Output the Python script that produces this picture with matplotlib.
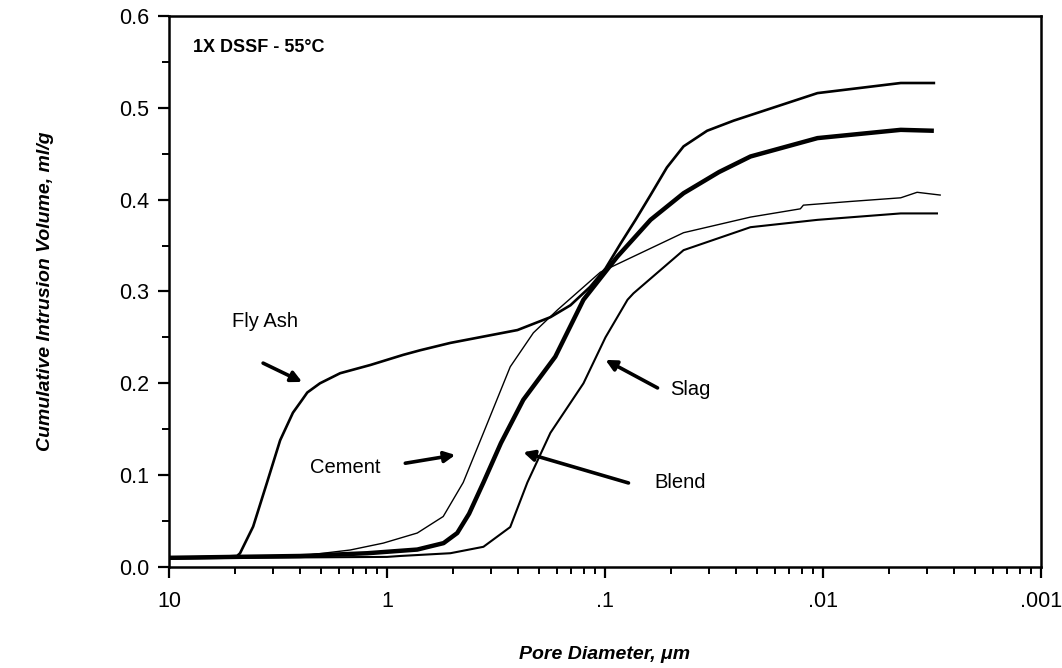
import numpy as np
import matplotlib.pyplot as plt

plt.rcParams['font.family'] = ['Liberation Sans', 'DejaVu Sans']

# pore diameter (um) vs cumulative intrusion volume (ml/g)
flyash_d = [10, 6, 4.87, 4.72, 4.11, 3.55, 3.09, 2.70, 2.45, 2.32, 2.03, 1.64,
            1.19, 0.842, 0.704, 0.512, 0.252, 0.178, 0.144, 0.117, 0.0995,
            0.0849, 0.0724, 0.0618, 0.052, 0.0436, 0.034, 0.0257, 0.0106,
            0.0044, 0.0031]
flyash_v = [0.010, 0.011, 0.012, 0.015, 0.044, 0.092, 0.138, 0.168, 0.182,
            0.190, 0.200, 0.211, 0.220, 0.231, 0.236, 0.244, 0.258, 0.272,
            0.285, 0.305, 0.325, 0.352, 0.378, 0.405, 0.435, 0.458, 0.475,
            0.486, 0.516, 0.527, 0.527]

blend_d = [10, 5, 2.5, 1.23, 0.726, 0.55, 0.476, 0.42, 0.361, 0.30, 0.237,
           0.169, 0.1255, 0.0877, 0.0618, 0.0436, 0.030, 0.0215, 0.0106,
           0.0044, 0.0031]
blend_v = [0.010, 0.011, 0.012, 0.015, 0.019, 0.026, 0.037, 0.058, 0.092,
           0.135, 0.182, 0.229, 0.291, 0.338, 0.378, 0.407, 0.430, 0.447,
           0.467, 0.476, 0.475]

cement_d = [10, 5, 2.5, 1.475, 1.04, 0.726, 0.552, 0.447, 0.361, 0.272, 0.213,
            0.165, 0.105, 0.0436, 0.0215, 0.0127, 0.0123, 0.0075, 0.0044,
            0.0037, 0.0029]
cement_v = [0.010, 0.011, 0.012, 0.0185, 0.026, 0.037, 0.055, 0.092, 0.146,
            0.218, 0.255, 0.280, 0.321, 0.364, 0.381, 0.390, 0.394, 0.398,
            0.402, 0.408, 0.405]

slag_d = [10, 5, 1, 0.869, 0.512, 0.361, 0.272, 0.227, 0.178, 0.1255, 0.0995,
          0.0788, 0.0740, 0.0436, 0.0215, 0.0106, 0.0044, 0.0030]
slag_v = [0.009, 0.010, 0.011, 0.012, 0.015, 0.022, 0.0435, 0.092, 0.146,
          0.200, 0.250, 0.291, 0.298, 0.345, 0.370, 0.378, 0.385, 0.385]

xtick_vals = [10, 1, 0.1, 0.01, 0.001]
xtick_labels = ['10', '1', '.1', '.01', '.001']
ytick_vals = [0.0, 0.1, 0.2, 0.3, 0.4, 0.5, 0.6]

fig = plt.figure(figsize=(10.62, 6.68), dpi=100)
ax = fig.add_axes([0.1591, 0.1512, 0.8211, 0.8249])

# x axis is plotted as 1/d so the log minor ticks bunch up toward the
# small-diameter end of each decade, as in the original graph
def inv(d):
    return 1.0 / np.asarray(d, dtype=float)

ax.plot(inv(flyash_d), flyash_v, color='k', lw=1.9)
ax.plot(inv(cement_d), cement_v, color='k', lw=1.0)
ax.plot(inv(slag_d), slag_v, color='k', lw=1.5)
ax.plot(inv(blend_d), blend_v, color='k', lw=3.2, solid_capstyle='butt')

ax.set_xscale('log')
ax.set_xlim(inv(10), inv(0.001))
ax.set_ylim(0, 0.6)
ax.set_xticks(inv(xtick_vals))
ax.set_xticklabels(xtick_labels)
ax.set_yticks(ytick_vals)
ax.set_yticklabels([f'{v:.1f}' for v in ytick_vals])
ax.set_yticks(np.arange(0.05, 0.6, 0.1), minor=True)

for s in ax.spines.values():
    s.set_linewidth(1.8)
ax.tick_params(which='major', direction='out', length=8, width=1.6,
               labelsize=15.5)
ax.tick_params(which='minor', direction='out', length=5, width=1.4)
ax.tick_params(axis='x', which='both', top=False, pad=9)
ax.tick_params(axis='y', which='both', right=False, pad=6)

ax.set_xlabel('Pore Diameter, μm', fontsize=14, fontweight='bold',
              fontstyle='italic', labelpad=25)
ax.set_ylabel('Cumulative Intrusion Volume, ml/g', fontsize=14,
              fontweight='bold', fontstyle='italic', labelpad=47)

ax.text(0.028, 0.942, '1X DSSF - 55°C', transform=ax.transAxes,
        fontsize=13, fontweight='bold', ha='left', va='center')

# curve labels with arrows
arrow = dict(arrowstyle='-|>', color='k', lw=2.6, mutation_scale=16,
             shrinkA=0, shrinkB=0)
labels = [
    ('Fly Ash', (3.62, 0.267), (3.70, 0.222), (2.45, 0.2015)),
    ('Cement', (1.555, 0.108), (0.824, 0.113), (0.486, 0.122)),
    ('Slag', (0.0405, 0.193), (0.0574, 0.195), (0.0995, 0.2255)),
    ('Blend', (0.045, 0.0915), (0.078, 0.0915), (0.237, 0.125)),
]
for name, txt, tail, head in labels:
    ax.text(1 / txt[0], txt[1], name, fontsize=14.5, ha='center', va='center')
    ax.annotate('', xy=(1 / head[0], head[1]), xytext=(1 / tail[0], tail[1]),
                arrowprops=arrow)

fig.savefig('out.png', dpi=100)
